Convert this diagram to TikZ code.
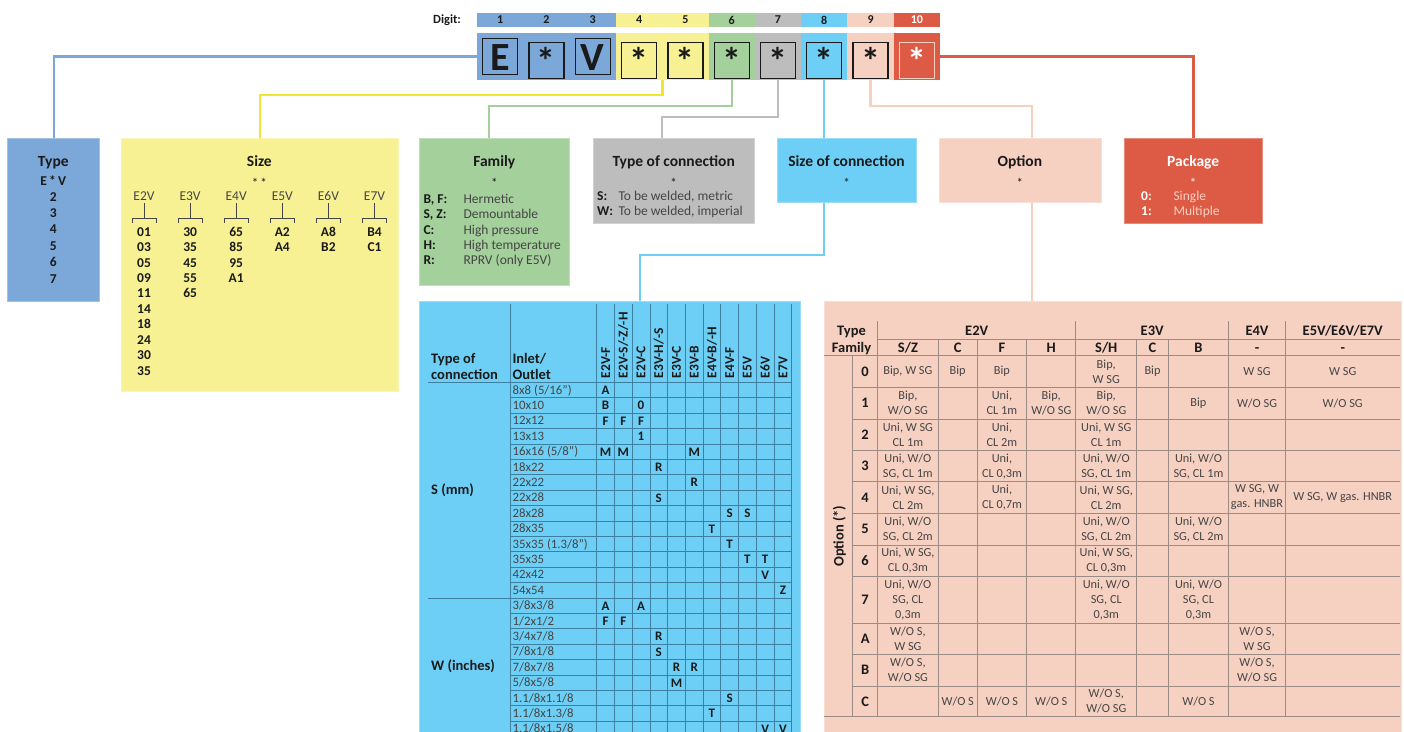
\documentclass[tikz,border=0pt]{standalone}
\usepackage{fontspec}
\setmainfont{Carlito}
\usetikzlibrary{positioning}

\definecolor{cblue}{HTML}{7BA7D9}
\definecolor{cyel}{HTML}{F7F194}
\definecolor{lyel}{HTML}{F1E52F}
\definecolor{cgreen}{HTML}{A4D09B}
\definecolor{cgray}{HTML}{BDBDBD}
\definecolor{ccyan}{HTML}{6DCFF6}
\definecolor{cpink}{HTML}{F6D0C1}
\definecolor{cred}{HTML}{DD5B44}
\definecolor{ink}{HTML}{1A1A1A}
\definecolor{soft}{HTML}{454545}
\definecolor{bgrid}{HTML}{3D7FA1}
\definecolor{pgrid}{HTML}{9A8B85}

\tikzset{
  digcell/.style={minimum width=46.3, minimum height=14, inner sep=0, font=\fontsize{12}{14}\selectfont\bfseries},
  bandcell/.style={minimum width=46.3, minimum height=47, inner sep=0},
  keybox/.style={draw=ink, line width=1.3, minimum width=35, minimum height=36, inner sep=0, text height=27, text depth=0, font=\fontsize{40}{40}\selectfont\bfseries, text=ink},
  starkey/.style={font=\fontsize{38}{38}\selectfont\bfseries, yshift=-4},
  catbox/.style={anchor=north west, inner sep=0, fill=#1, draw=#1!70!white, line width=0.8},
  link/.style={draw=#1, line width=2.2},
  ttl/.style={anchor=base, inner sep=0, font=\fontsize{15.5}{18}\selectfont\bfseries, text=ink},
  star/.style={anchor=base, inner sep=0, font=\fontsize{13}{15}\selectfont, text=ink},
  bnum/.style={anchor=base, inner sep=0, font=\fontsize{13.5}{16}\selectfont\bfseries, text=ink},
  lbl/.style={anchor=base, inner sep=0, font=\fontsize{13.5}{16}\selectfont, text=soft},
  blbl/.style={bnum, anchor=base west},
  desc/.style={lbl, anchor=base west},
  brk/.style={draw=soft, line width=0.8},
  bgridline/.style={draw=bgrid, line width=0.7},
  pgridline/.style={draw=pgrid, line width=0.8},
  colhead/.style={rotate=90, anchor=west, inner sep=0, font=\fontsize{13.5}{14}\selectfont\bfseries, text=ink},
  inlet/.style={anchor=base west, inner sep=0, font=\fontsize{12.8}{15}\selectfont, text=soft},
  entry/.style={inner sep=0, font=\fontsize{13}{15}\selectfont\bfseries, text=ink},
  thead/.style={anchor=base west, inner sep=0, font=\fontsize{14.5}{17}\selectfont\bfseries, text=ink},
  ohead/.style={anchor=base, inner sep=0, font=\fontsize{14.5}{17}\selectfont\bfseries, text=ink},
  optc/.style={align=center, inner sep=0, font=\fontsize{12.3}{15}\selectfont, text=soft}
}

\begin{document}
\begin{tikzpicture}[x=1pt,y=-1pt]
  \useasboundingbox (0,0) rectangle (1404,731);
  \clip (0,0) rectangle (1404,731);

  % Digit strip and code band
  \node[anchor=west, inner sep=0, font=\fontsize{12.5}{14}\selectfont\bfseries, text=ink] (digitlbl) at (433,20) {Digit:};
  \foreach \i/\col/\tc in {1/cblue/ink,2/cblue/ink,3/cblue/ink,4/cyel/ink,5/cyel/ink,6/cgreen/ink,7/cgray/ink,8/ccyan/ink,9/cpink/ink,10/cred/white} {
    \node[digcell, fill=\col, text=\tc] (g\i) at ({477+(\i-0.5)*46.3},20) {\i};
    \node[bandcell, fill=\col] (c\i) at ({477+(\i-0.5)*46.3},56.5) {};
  }
  \node[keybox] (k1) at (c1) {E};
  \node[keybox, starkey] (k2) at (c2) {*};
  \node[keybox] (k3) at (c3) {V};
  \foreach \i in {4,...,9}
    \node[keybox, starkey] (k\i) at (c\i) {*};
  \node[keybox, starkey, draw=cpink, text=white] (k10) at (c10) {*};

  % Category boxes
  \node[catbox=cblue, minimum width=92, minimum height=163] (typebox) at (7.3,138.3) {};
  \node[catbox=cyel, minimum width=276.7, minimum height=252.7] (sizebox) at (121,138.3) {};
  \node[catbox=cgreen, minimum width=150, minimum height=147] (fambox) at (419.3,138.3) {};
  \node[catbox=cgray, minimum width=160.7, minimum height=84.4] (tocbox) at (593.3,138.3) {};
  \node[catbox=ccyan, minimum width=138.4, minimum height=64] (socbox) at (777.3,138.3) {};
  \node[catbox=cpink, minimum width=161.7, minimum height=64] (optbox) at (939,138.3) {};
  \node[catbox=cred, minimum width=138.3, minimum height=85] (pkgbox) at (1124,138.3) {};
  \node[catbox=ccyan, minimum width=381, minimum height=450] (sizetab) at (419,301) {};
  \node[catbox=cpink, minimum width=577, minimum height=450] (opttab) at (824.3,301) {};

  % Connectors
  \draw[link=cblue] (c1.west) -| (typebox.north);
  \draw[link=lyel] (c4.south east) -- ++(0,15) -| (sizebox.north);
  \draw[link=cgreen] (c6.south) -- ++(0,26) -| ([xshift=-6]fambox.north);
  \draw[link=cgray] (c7.south) -- ++(0,37) -| ([xshift=-12]tocbox.north);
  \draw[link=ccyan] (c8.south) -- (c8.south |- socbox.north);
  \draw[link=ccyan] (c8 |- socbox.south) -- ++(0,52) -| ([xshift=30]sizetab.north);
  \draw[link=cpink] (c9.south) -- ++(0,26) -| ([xshift=12]optbox.north);
  \draw[link=cpink] ([xshift=12]optbox.south) -- ([xshift=12]optbox.south |- opttab.north);
  \draw[link=cred] (c10.east) -| (pkgbox.north);

  % Type
  \node[ttl] at (53.3,166) {Type};
  \node[bnum] at (53.3,185.5) {E\,*\,V};
  \foreach \t [count=\k from 0] in {2,3,4,5,6,7}
    \node[bnum] at (53.3,{201+16.4*\k}) {\t};

  % Size
  \node[ttl] at (259.35,166) {Size};
  \node[star] at (259.35,187) {*\,*};
  \foreach \n [count=\j from 0] in {E2V,E3V,E4V,E5V,E6V,E7V} {
    \node[lbl] (sz\n) at ({144+46.1*\j},200) {\n};
    \draw[brk] ({144+46.1*\j},203) -- ({144+46.1*\j},218)
      ({132+46.1*\j},222.5) -- ({132+46.1*\j},218) -- ({156+46.1*\j},218) -- ({156+46.1*\j},222.5);
  }
  \foreach \vals [count=\j from 0] in {{01,03,05,09,11,14,18,24,30,35},{30,35,45,55,65},{65,85,95,A1},{A2,A4},{A8,B2},{B4,C1}}
    \foreach \v [count=\k from 0] in \vals
      \node[bnum] at ({144+46.1*\j},{236.2+15.44*\k}) {\v};

  % Family
  \node[ttl] at (494.3,166) {Family};
  \node[star] at (494.3,187) {*};
  \foreach \a/\b [count=\k from 0] in {{B, F:}/Hermetic,{S, Z:}/Demountable,C:/High pressure,H:/High temperature,R:/RPRV (only E5V)} {
    \node[blbl] at (423.3,{203.2+15.4*\k}) {\a};
    \node[desc] at (463.3,{203.2+15.4*\k}) {\b};
  }

  % Type of connection
  \node[ttl] at (673.65,166) {Type of connection};
  \node[star] at (673.65,187) {*};
  \node[blbl] at (597,200.5) {S:};
  \node[desc] at (618.3,200.5) {To be welded, metric};
  \node[blbl] at (597,215.8) {W:};
  \node[desc] at (618.3,215.8) {To be welded, imperial};

  % Size of connection, option
  \node[ttl] at (846.5,166) {Size of connection};
  \node[star] at (846.5,187) {*};
  \node[ttl] at (1019.85,166) {Option};
  \node[star] at (1019.85,187) {*};

  % Package
  \node[ttl, text=white] at (1193.2,166) {Package};
  \node[star, text=white] at (1193.2,187) {*};
  \node[blbl, text=white] at (1141,200.5) {0:};
  \node[desc, text=cpink] at (1173.3,200.5) {Single};
  \node[blbl, text=white] at (1141,215.5) {1:};
  \node[desc, text=cpink] at (1173.3,215.5) {Multiple};

  % Size of connection table
  \draw[bgridline] (510,304) -- (510,745);
  \foreach \j in {0,...,11}
    \draw[bgridline] ({596.7+17.73*\j},304) -- ({596.7+17.73*\j},745);
  \foreach \r in {1,...,23}
    \draw[bgridline] (510,{382.3+15.4*\r}) -- (791.8,{382.3+15.4*\r});
  \draw[bgridline] (428,382.3) -- (791.8,382.3);
  \draw[bgridline] (428,597.9) -- (791.8,597.9);
  \node[thead] at (431,363) {Type of};
  \node[thead] at (431,379.5) {connection};
  \node[thead] at (512.3,363) {Inlet/};
  \node[thead] at (512.3,379.5) {Outlet};
  \node[thead] at (431,494.5) {S (mm)};
  \node[thead] at (431,670.5) {W (inches)};
  \foreach \h [count=\j] in {E2V-F,E2V-S/-Z/-H,E2V-C,E3V-H/-S,E3V-C,E3V-B,E4V-B/-H,E4V-F,E5V,E6V,E7V}
    \node[colhead] at ({596.7+17.73*(\j-0.5)},378.5) {\h};
  \foreach \t [count=\r from 0] in {8x8 (5/16”),10x10,12x12,13x13,16x16 (5/8”),18x22,22x22,22x28,28x28,28x35,35x35 (1.3/8”),35x35,42x42,54x54,3/8x3/8,1/2x1/2,3/4x7/8,7/8x1/8,7/8x7/8,5/8x5/8,1.1/8x1.1/8,1.1/8x1.3/8,1.1/8x1.5/8}
    \node[inlet] at (512.5,{382.3+15.4*\r+11.8}) {\t};
  \foreach \r/\c/\t in {0/1/A,1/1/B,1/3/0,2/1/F,2/2/F,2/3/F,3/3/1,4/1/M,4/2/M,4/6/M,5/4/R,6/6/R,7/4/S,8/8/S,8/9/S,9/7/T,10/8/T,11/9/T,11/10/T,12/10/V,13/11/Z,14/1/A,14/3/A,15/1/F,15/2/F,16/4/R,17/4/S,18/5/R,18/6/R,19/5/M,20/8/S,21/7/T,22/10/V,22/11/V}
    \node[entry] at ({596.7+17.73*(\c-0.5)},{382.3+15.4*\r+7.9}) {\t};

  % Option table
  \draw[pgridline] (877.6,339) -- (1400,339);
  \draw[pgridline] (824.3,355.7) -- (1400,355.7);
  \foreach \y in {387.3,419,450.7,481.7,513.3,545,576.7,623.3,654.3,686}
    \draw[pgridline] (852.7,\y) -- (1400,\y);
  \draw[pgridline] (824.3,716.7) -- (1400,716.7);
  \foreach \x in {877.6,1075.8,1228.6,1285.4}
    \draw[pgridline] (\x,321) -- (\x,716.7);
  \foreach \x in {938.2,977.2,1026.7,1136.7,1168.3}
    \draw[pgridline] (\x,339) -- (\x,716.7);
  \draw[pgridline] (852.7,355.7) -- (852.7,716.7);
  \coordinate (otyp) at (0,335.5);
  \coordinate (ofam) at (0,352);
  \foreach \n/\x in {0/865.15,1/907.9,2/957.7,3/1001.95,4/1051.25,5/1106.25,6/1152.5,7/1198.45,8/1257,9/1342.7}
    \coordinate (oc\n) at (\x,0);
  \foreach \n/\y in {0/371.5,1/403.2,2/434.9,3/466.2,4/497.5,5/529.2,6/560.9,7/600,A/638.8,B/670.2,C/701.4}
    \coordinate (or\n) at (0,\y);
  \node[ohead] at (851.5,335.5) {Type};
  \node[ohead] at (851.5,352) {Family};
  \node[ohead] at (976.7,335.5) {E2V};
  \node[ohead] at (1152.2,335.5) {E3V};
  \node[ohead] at (oc8 |- otyp) {E4V};
  \node[ohead] at (oc9 |- otyp) {E5V/E6V/E7V};
  \node[ohead] at (oc1 |- ofam) {S/Z};
  \node[ohead] at (oc2 |- ofam) {C};
  \node[ohead] at (oc3 |- ofam) {F};
  \node[ohead] at (oc4 |- ofam) {H};
  \node[ohead] at (oc5 |- ofam) {S/H};
  \node[ohead] at (oc6 |- ofam) {C};
  \node[ohead] at (oc7 |- ofam) {B};
  \node[ohead] at (oc8 |- ofam) {-};
  \node[ohead] at (oc9 |- ofam) {-};
  \node[ohead, rotate=90, anchor=center] at (839.3,536.2) {Option (*)};
  \foreach \n in {0,1,2,3,4,5,6,7,A,B,C}
    \node[ohead, anchor=center] at (oc0 |- or\n) {\n};
  % row 0
  \node[optc] at (oc1 |- or0) {Bip, W SG};
  \node[optc] at (oc2 |- or0) {Bip};
  \node[optc] at (oc3 |- or0) {Bip};
  \node[optc] at (oc5 |- or0) {Bip,\\W SG};
  \node[optc] at (oc6 |- or0) {Bip};
  \node[optc] at (oc8 |- or0) {W SG};
  \node[optc] at (oc9 |- or0) {W SG};
  % row 1
  \node[optc] at (oc1 |- or1) {Bip,\\W/O SG};
  \node[optc] at (oc3 |- or1) {Uni,\\CL 1m};
  \node[optc] at (oc4 |- or1) {Bip,\\W/O SG};
  \node[optc] at (oc5 |- or1) {Bip,\\W/O SG};
  \node[optc] at (oc7 |- or1) {Bip};
  \node[optc] at (oc8 |- or1) {W/O SG};
  \node[optc] at (oc9 |- or1) {W/O SG};
  % row 2
  \node[optc] at (oc1 |- or2) {Uni, W SG\\CL 1m};
  \node[optc] at (oc3 |- or2) {Uni,\\CL 2m};
  \node[optc] at (oc5 |- or2) {Uni, W SG\\CL 1m};
  % row 3
  \node[optc] at (oc1 |- or3) {Uni, W/O\\SG, CL 1m};
  \node[optc] at (oc3 |- or3) {Uni,\\CL 0,3m};
  \node[optc] at (oc5 |- or3) {Uni, W/O\\SG, CL 1m};
  \node[optc] at (oc7 |- or3) {Uni, W/O\\SG, CL 1m};
  % row 4
  \node[optc] at (oc1 |- or4) {Uni, W SG,\\CL 2m};
  \node[optc] at (oc3 |- or4) {Uni,\\CL 0,7m};
  \node[optc] at (oc5 |- or4) {Uni, W SG,\\CL 2m};
  \node[optc] at (oc8 |- or4) {W SG, W\\gas. HNBR};
  \node[optc] at (oc9 |- or4) {W SG, W gas. HNBR};
  % row 5
  \node[optc] at (oc1 |- or5) {Uni, W/O\\SG, CL 2m};
  \node[optc] at (oc5 |- or5) {Uni, W/O\\SG, CL 2m};
  \node[optc] at (oc7 |- or5) {Uni, W/O\\SG, CL 2m};
  % row 6
  \node[optc] at (oc1 |- or6) {Uni, W SG,\\CL 0,3m};
  \node[optc] at (oc5 |- or6) {Uni, W SG,\\CL 0,3m};
  % row 7
  \node[optc] at (oc1 |- or7) {Uni, W/O\\SG, CL\\0,3m};
  \node[optc] at (oc5 |- or7) {Uni, W/O\\SG, CL\\0,3m};
  \node[optc] at (oc7 |- or7) {Uni, W/O\\SG, CL\\0,3m};
  % rows A, B, C
  \node[optc] at (oc1 |- orA) {W/O S,\\W SG};
  \node[optc] at (oc8 |- orA) {W/O S,\\W SG};
  \node[optc] at (oc1 |- orB) {W/O S,\\W/O SG};
  \node[optc] at (oc8 |- orB) {W/O S,\\W/O SG};
  \node[optc] at (oc2 |- orC) {W/O S};
  \node[optc] at (oc3 |- orC) {W/O S};
  \node[optc] at (oc4 |- orC) {W/O S};
  \node[optc] at (oc5 |- orC) {W/O S,\\W/O SG};
  \node[optc] at (oc7 |- orC) {W/O S};
\end{tikzpicture}
\end{document}
